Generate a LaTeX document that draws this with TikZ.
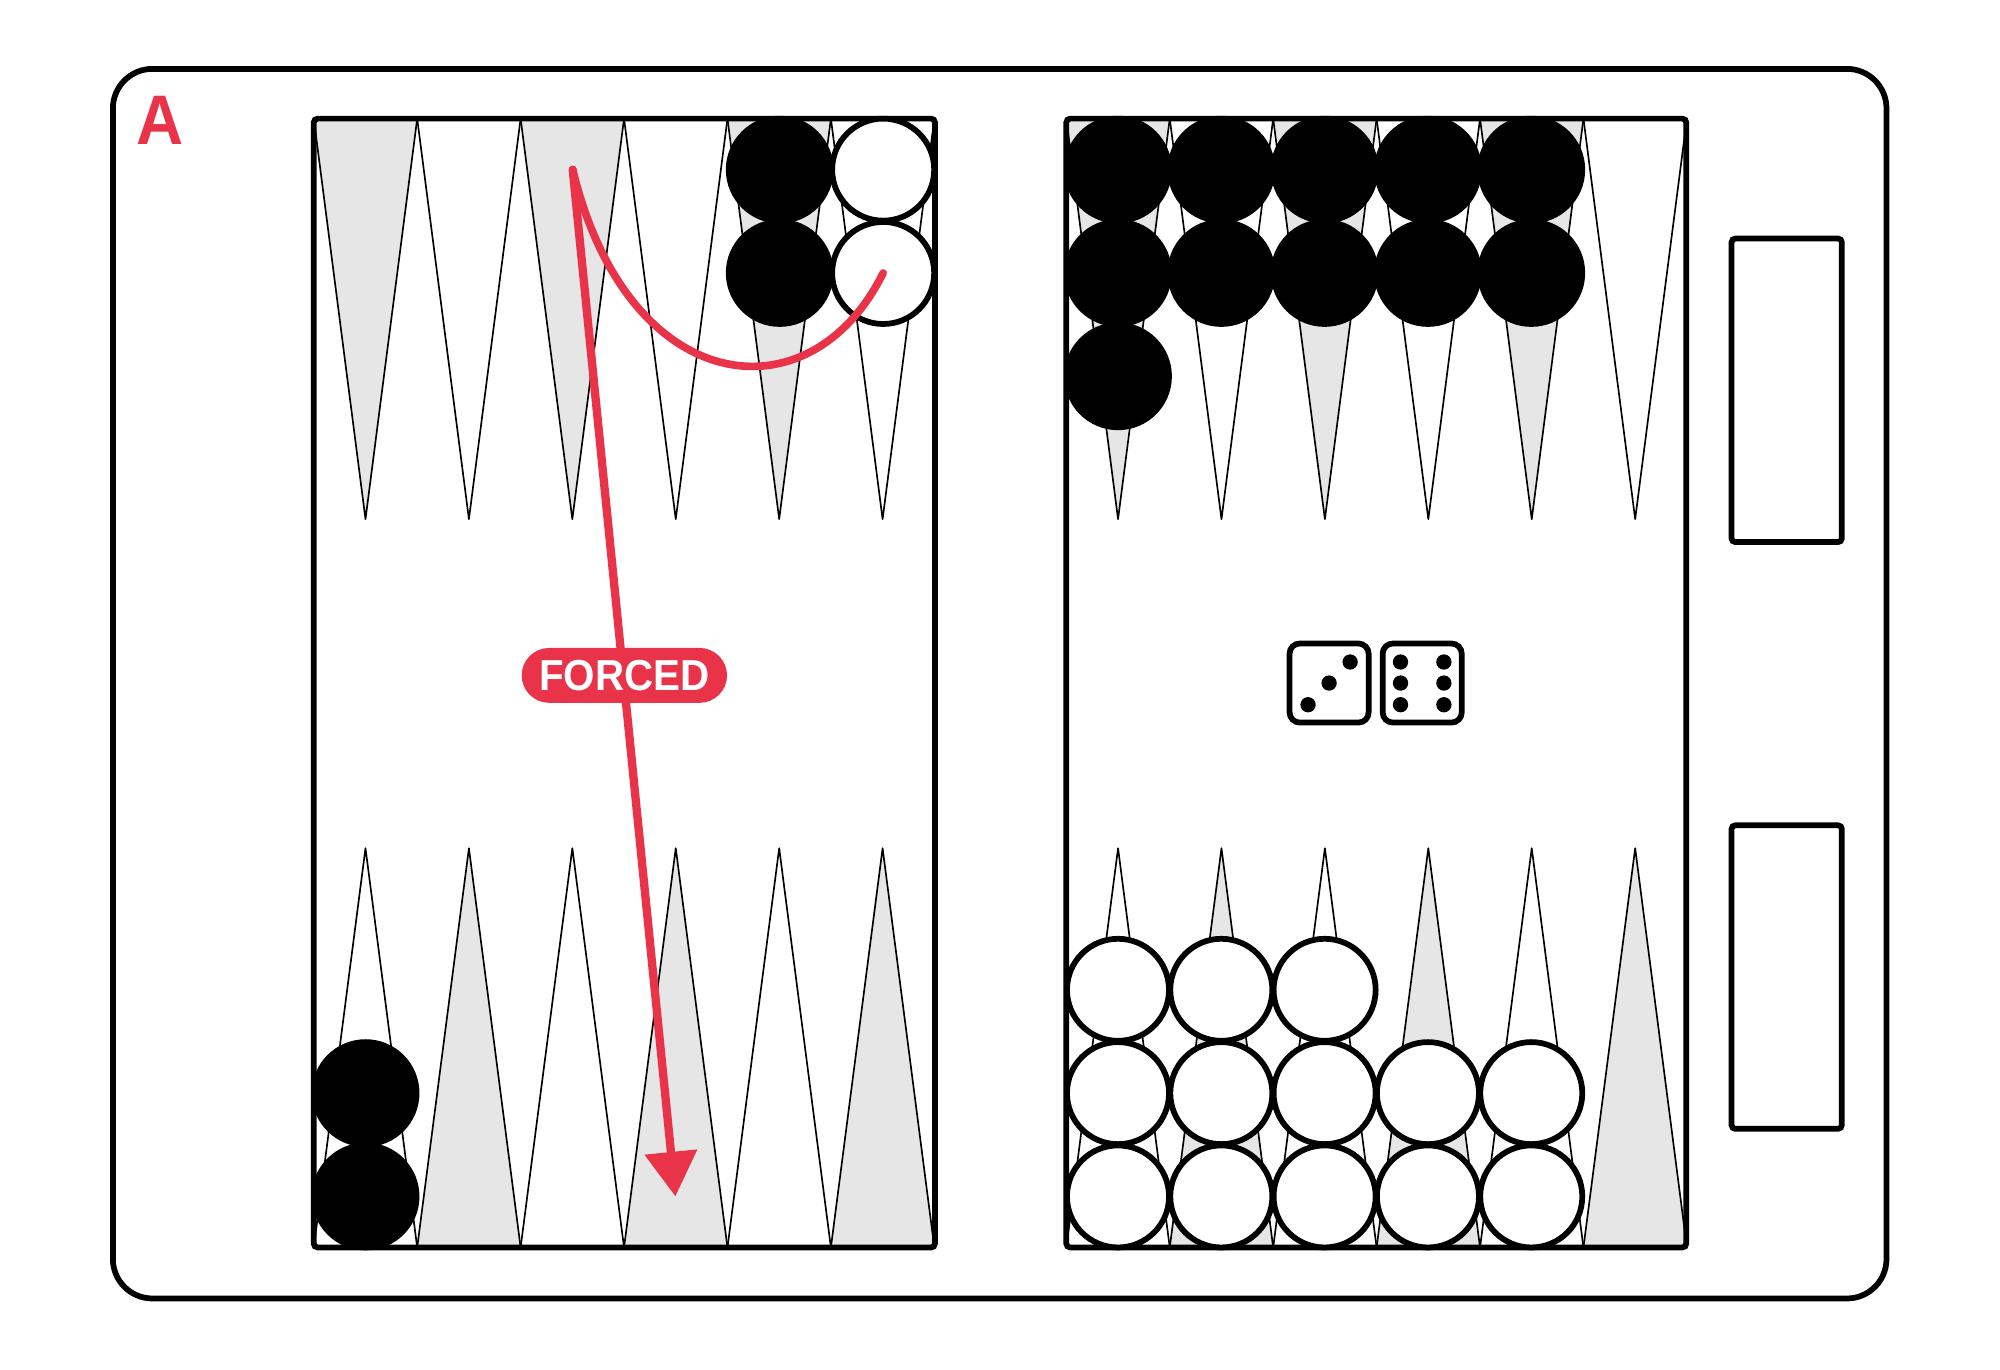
\documentclass[tikz,border=0pt]{standalone}
\usepackage{fontspec}
\newfontfamily\labelfont{Liberation Sans}[FakeStretch=0.93]
\usetikzlibrary{arrows.meta}
\definecolor{accent}{RGB}{232,51,72}
\definecolor{pointgray}{RGB}{230,230,230}
\tikzset{
  frame/.style={draw=black, line width=4.5pt},
  pointline/.style={draw=black, line width=1.3pt, line join=round},
  blackchk/.style={circle, draw=black, fill=black, line width=4.5pt, minimum size=80pt, inner sep=0pt},
  whitechk/.style={circle, draw=black, fill=white, line width=4.5pt, minimum size=80pt, inner sep=0pt},
  die/.style={rectangle, draw=black, fill=white, line width=4.5pt, rounded corners=8pt, minimum width=62pt, minimum height=62pt, inner sep=0pt},
  pip/.style={circle, fill=black, minimum size=12pt, inner sep=0pt},
  redline/.style={draw=accent, line cap=round},
  pill/.style={rectangle, fill=accent, rounded corners=21.5pt, minimum width=161pt, minimum height=43pt, inner sep=0pt, text=white, font=\labelfont\bfseries\fontsize{34}{34}\selectfont}
}
\begin{document}
\begin{tikzpicture}[x=1pt,y=-1pt]
\useasboundingbox (0,0) rectangle (1568,1074);
% outer board
\draw[frame, rounded corners=31pt] (88.5,54) rectangle (1479,1018);
% points
\foreach \hx in {246,836}{
  \foreach \i/\tc/\bc in {0/pointgray/white,1/white/pointgray,2/pointgray/white,3/white/pointgray,4/pointgray/white,5/white/pointgray}{
    \pgfmathsetmacro\pa{\hx+81.083*\i}
    \pgfmathsetmacro\pb{\hx+81.083*(\i+1)}
    \pgfmathsetmacro\pc{\hx+81.083*(\i+0.5)}
    \draw[pointline, fill=\tc] (\pa,93) -- (\pc,407) -- (\pb,93) -- cycle;
    \draw[pointline, fill=\bc] (\pa,978) -- (\pc,665) -- (\pb,978) -- cycle;
  }
}
% half frames
\draw[frame, rounded corners=3pt] (246,93) rectangle (733,978);
\draw[frame, rounded corners=3pt] (836,93) rectangle (1322,978);
% bar trays
\draw[frame, rounded corners=3pt] (1357.5,187) rectangle (1444,425);
\draw[frame, rounded corners=3pt] (1357.5,647) rectangle (1444,885);
% checkers top left
\node[blackchk] (tlb1) at (611.3,133) {};
\node[blackchk] (tlb2) at (611.3,214) {};
\node[whitechk] (tlw1) at (692.4,133) {};
\node[whitechk] (tlw2) at (692.4,214) {};
% checkers bottom left
\node[blackchk] (blb1) at (286.6,857) {};
\node[blackchk] (blb2) at (286.6,938) {};
% checkers top right
\foreach \n/\cx/\cy in {a/876.5/133,b/876.5/214,c/876.5/295,d/957.5/133,e/957.5/214,f/1038.5/133,g/1038.5/214,h/1119.5/133,i/1119.5/214,j/1200.5/133,k/1200.5/214}{
  \node[blackchk] (trb\n) at (\cx,\cy) {};
}
% checkers bottom right
\foreach \n/\cx/\cy in {a/876.5/776,b/876.5/857,c/876.5/938,d/957.5/776,e/957.5/857,f/957.5/938,g/1038.5/776,h/1038.5/857,i/1038.5/938,j/1119.5/857,k/1119.5/938,l/1200.5/857,m/1200.5/938}{
  \node[whitechk] (brw\n) at (\cx,\cy) {};
}
% dice
\node[die] (die1) at (1042,535.5) {};
\node[die] (die2) at (1115,535.5) {};
\node[pip] (d1p1) at (1025.5,552.5) {};
\node[pip] (d1p2) at (1042,535.5) {};
\node[pip] (d1p3) at (1058.5,519) {};
\foreach \n/\px/\py in {1/1098/519,2/1098/535.5,3/1098/552.5,4/1132/519,5/1132/535.5,6/1132/552.5}{
  \node[pip] (d2p\n) at (\px,\py) {};
}
% move markers
\coordinate (from) at (449,133);
\coordinate (to) at (529.5,938);
\draw[redline, line width=6pt] (from) .. controls (492,312) and (635,330) .. (tlw2.center);
\draw[redline, line width=6.5pt, -{Triangle[length=35pt,width=40pt]}] (from) -- (to);
\node[pill] (forced) at (489.5,529.5) {FORCED};
% panel letter
\node[inner sep=0pt, text=accent, font=\labelfont\bfseries\fontsize{55}{55}\selectfont] (letter) at (125.5,94.5) {A};
\end{tikzpicture}
\end{document}
